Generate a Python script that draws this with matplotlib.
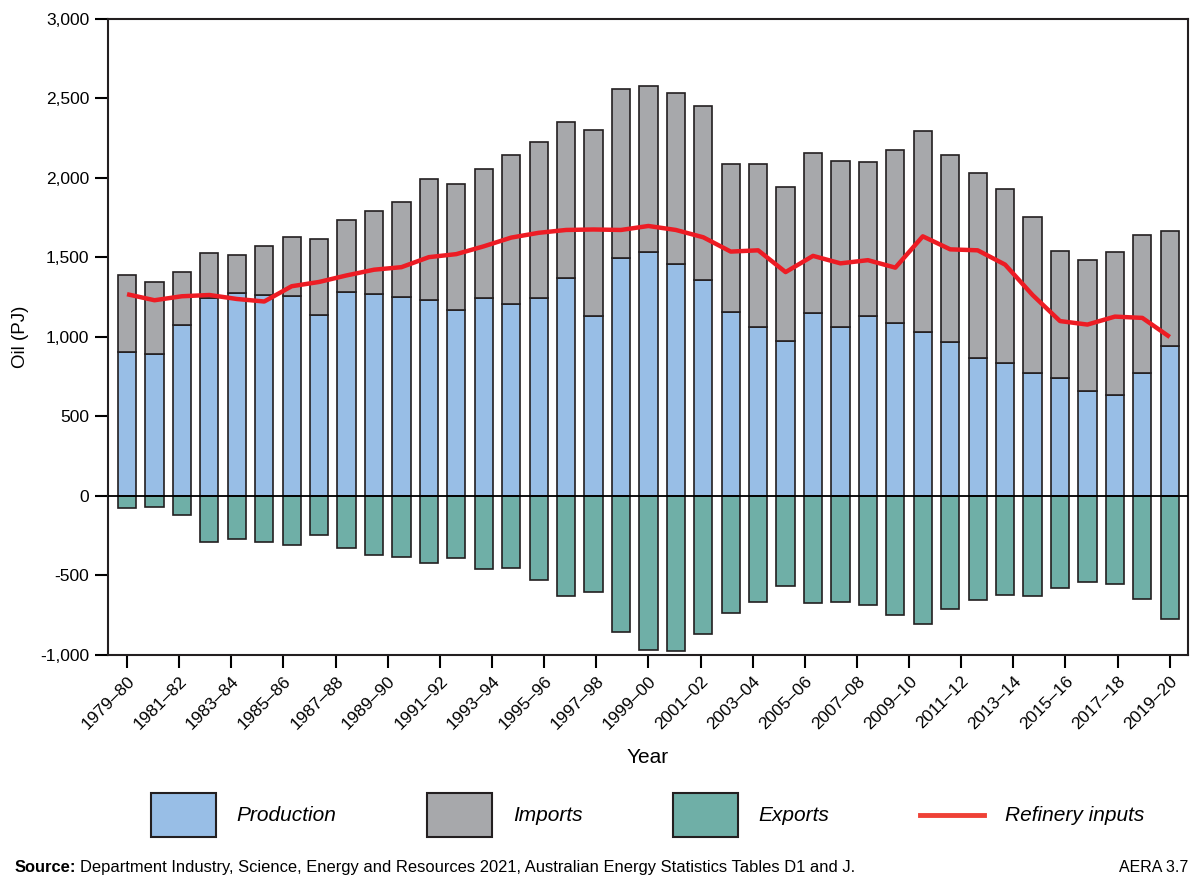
import numpy as np
import matplotlib.pyplot as plt
from matplotlib.patches import Patch
from matplotlib.lines import Line2D
from matplotlib.legend_handler import HandlerLine2D

plt.rcParams['font.family'] = ['Liberation Sans', 'DejaVu Sans']

tick_labels = ["1979–80", "1981–82", "1983–84", "1985–86", "1987–88", "1989–90",
               "1991–92", "1993–94", "1995–96", "1997–98", "1999–00", "2001–02",
               "2003–04", "2005–06", "2007–08", "2009–10", "2011–12", "2013–14",
               "2015–16", "2017–18", "2019–20"]

production = [903, 892, 1075, 1245, 1275, 1264, 1259, 1141, 1280, 1272, 1250, 1233, 1168,
              1247, 1209, 1245, 1371, 1133, 1499, 1537, 1458, 1357, 1155, 1061, 977, 1152,
              1061, 1130, 1089, 1034, 971, 865, 835, 774, 744, 660, 635, 772, 941]
imports = [487, 454, 331, 284, 243, 306, 371, 476, 454, 522, 599, 758, 793,
           810, 938, 981, 984, 1170, 1061, 1039, 1077, 1093, 932, 1026, 968, 1003,
           1045, 973, 1088, 1261, 1176, 1167, 1093, 979, 799, 826, 900, 872, 724]
exports = [-76, -68, -119, -289, -273, -287, -308, -245, -327, -371, -382, -420, -393,
           -458, -450, -529, -628, -601, -855, -970, -978, -868, -737, -666, -565, -675,
           -666, -688, -751, -803, -713, -656, -623, -626, -576, -540, -551, -650, -773]
refinery = [1269, 1231, 1256, 1264, 1239, 1223, 1319, 1346, 1387, 1423, 1439, 1502, 1521,
            1570, 1625, 1655, 1673, 1676, 1673, 1698, 1673, 1627, 1537, 1545, 1408, 1510,
            1463, 1483, 1436, 1633, 1551, 1545, 1455, 1264, 1100, 1078, 1128, 1120, 1000]

c_prod = "#98bee6"
c_imp = "#a7a8ab"
c_exp = "#6fafa7"
c_line = "#ed1c24"
edge = "#231f20"


class CenteredLine(HandlerLine2D):
    # put the legend line in the middle of the (tall) handle box
    def create_artists(self, legend, orig_handle, xdescent, ydescent, width, height,
                       fontsize, trans):
        arts = super().create_artists(legend, orig_handle, xdescent, ydescent, width,
                                      height, fontsize, trans)
        for a in arts:
            a.set_ydata(np.full_like(np.asarray(a.get_xdata(), float), height / 2 - ydescent))
        return arts


# bars are spread evenly over the tick range (as in the original)
n_ticks = len(tick_labels)
x = np.linspace(0, 2 * (n_ticks - 1), len(production))
w = 0.70

fig = plt.figure(figsize=(12, 8.82), dpi=100)
ax = fig.add_axes([0.09, 0.2574, 0.90, 0.7211])

ax.bar(x, production, w, color=c_prod, edgecolor=edge, linewidth=1.2, zorder=2)
ax.bar(x, imports, w, bottom=production, color=c_imp, edgecolor=edge, linewidth=1.2, zorder=2)
ax.bar(x, exports, w, color=c_exp, edgecolor=edge, linewidth=1.2, zorder=2)
ax.axhline(0, color="black", linewidth=1.3, zorder=3)
ax.plot(x, refinery, color=c_line, linewidth=3.2, zorder=4, solid_capstyle="butt")

ax.set_xlim(-0.73, 40.7)
ax.set_ylim(-1000, 3000)
ax.set_yticks(range(-1000, 3001, 500))
ax.set_yticklabels([f"{v:,}" for v in range(-1000, 3001, 500)])
ax.set_xticks(np.arange(0, 2 * n_ticks, 2))
ax.set_xticklabels(tick_labels, rotation=45, ha="right", rotation_mode="anchor")

ax.tick_params(axis="both", direction="out", length=9.5, width=1.5, labelsize=12.5,
               colors="black", pad=4)
for s in ax.spines.values():
    s.set_linewidth(1.5)
    s.set_color(edge)

ax.set_ylabel("Oil (PJ)", fontsize=13.5, labelpad=8)
ax.set_xlabel("Year", fontsize=15, labelpad=11)

ref_handle = Line2D([], [], color="#ef4136", linewidth=3.5)
handles = [Patch(facecolor=c_prod, edgecolor=edge, linewidth=1.5),
           Patch(facecolor=c_imp, edgecolor=edge, linewidth=1.5),
           Patch(facecolor=c_exp, edgecolor=edge, linewidth=1.5),
           ref_handle]
labels = ["Production", "Imports", "Exports", "Refinery inputs"]
fig.legend(handles, labels, loc="center", bbox_to_anchor=(0.54, 0.076), ncol=4,
           frameon=False, prop={"size": 15, "style": "italic"},
           handlelength=3.1, handleheight=2.85, handletextpad=1.0, columnspacing=4.35,
           handler_map={ref_handle: CenteredLine()})

# source line: bold lead-in followed by regular text
src_bold = fig.text(0.012, 0.0113, "Source:", fontsize=11.9, fontweight="bold", va="baseline")
fig.canvas.draw()
bb = src_bold.get_window_extent()
x_rest = (bb.x1 + 4) / fig.bbox.width
fig.text(x_rest, 0.0113, "Department Industry, Science, Energy and Resources 2021, "
         "Australian Energy Statistics Tables D1 and J.", fontsize=11.9, va="baseline")
fig.text(0.99, 0.0113, "AERA 3.7", fontsize=11.5, ha="right", va="baseline")

plt.savefig("out.png", dpi=100)
